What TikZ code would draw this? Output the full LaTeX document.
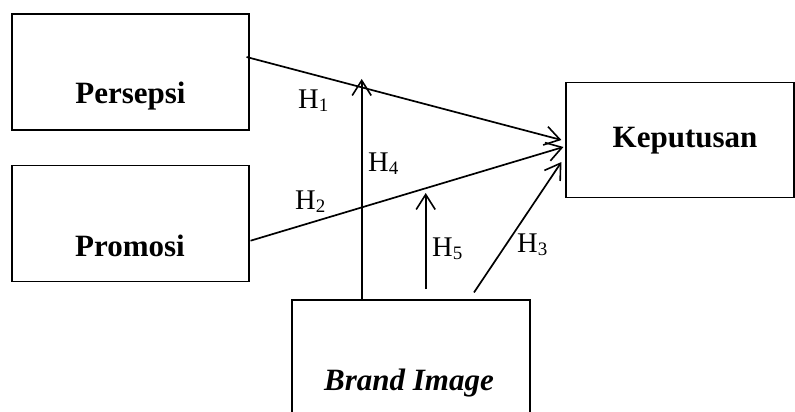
\documentclass[tikz,border=0pt]{standalone}
\usepackage{fontspec}
\setmainfont{Liberation Serif}
\usetikzlibrary{arrows.meta}
\newcommand{\Hlab}[1]{H\raisebox{-3pt}{\fontsize{19}{20}\selectfont #1}}
\tikzset{
  box/.style={draw, line width=1.1pt, inner sep=0pt, rectangle},
  boxtext/.style={font=\fontsize{31}{36}\selectfont\bfseries, inner sep=0pt, anchor=base},
  hyp/.style={font=\fontsize{28.5}{32}\selectfont, inner sep=0pt, anchor=base west},
  link/.style={line width=1.7pt, -{Straight Barb[length=15pt,width=19pt,line width=1.6pt]}}
}
\begin{document}
\begin{tikzpicture}[x=1pt,y=-1pt]
\clip (0,0) rectangle (795,412);
\fill[white] (0,0) rectangle (795,412);
% boxes
\node[box, minimum width=237pt, minimum height=116pt] (pers) at (130.5,72) {};
\node[box, minimum width=237pt, minimum height=116pt] (prom) at (130.5,223.7) {};
\node[box, minimum width=228pt, minimum height=115pt] (kep) at (680,139.7) {};
\node[box, minimum width=238pt, minimum height=140pt] (brand) at (411,370) {};
% texts
\node[boxtext] (perst) at (130.5,103) {Persepsi};
\node[boxtext] (promt) at (130,256) {Promosi};
\node[boxtext] (kept) at (685,147) {Keputusan};
\node[boxtext] (brandt) at (409,390) {\itshape Brand Image};
% free ends
\coordinate (h4tip) at (361.7,79);
\coordinate (h5tail) at (425.7,289);
\coordinate (h5tip) at (425.7,193);
% connectors
\draw[link] ([shift={(-3,-15)}]pers.east) -- ([shift={(-4,0.3)}]kep.west);
\draw[link] ([shift={(1,17)}]prom.east) -- ([shift={(-2,7.3)}]kep.west);
\draw[link] ([shift={(63,-7)}]brand.north) -- ([shift={(-4,22.3)}]kep.west);
\draw[link] ([shift={(-49.3,0)}]brand.north) -- (h4tip);
\draw[link] (h5tail) -- (h5tip);
% hypothesis labels
\node[hyp] (l1) at (298,108) {\Hlab{1}};
\node[hyp] (l2) at (295,209) {\Hlab{2}};
\node[hyp] (l3) at (517,252.7) {\Hlab{3}};
\node[hyp] (l4) at (368,171) {\Hlab{4}};
\node[hyp] (l5) at (432,256.7) {\Hlab{5}};
\end{tikzpicture}
\end{document}
